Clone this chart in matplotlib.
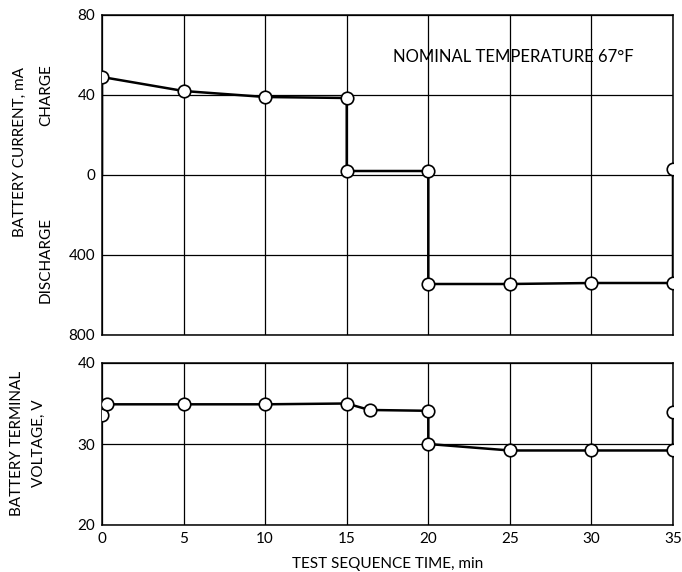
import numpy as np
import matplotlib.pyplot as plt

# battery current vs time (charge positive, discharge negative), mA
cur_t = [0, 0, 5, 10, 15, 15, 20, 20, 25, 30, 35, 35]
cur_ma = [0, 49, 42, 39, 38.5, 2, 2, -545, -545, -540, -540, 3]
cur_marked = [False] + [True] * 11

# battery terminal voltage vs time, V
volt_t = [0, 0.3, 5, 10, 15, 16.4, 20, 20, 25, 30, 35, 35]
volt_v = [33.6, 34.9, 34.9, 34.9, 35.0, 34.2, 34.1, 30.0, 29.2, 29.2, 29.2, 34.0]

x_ticks = [0, 5, 10, 15, 20, 25, 30, 35]
cur_ticks = [80, 40, 0, -400, -800]
volt_ticks = [20, 30, 40]

plt.rcParams['font.family'] = ['Lato', 'DejaVu Sans']
plt.rcParams['font.size'] = 11


def fwd(y):
    y = np.asarray(y, dtype=float)
    return np.where(y >= 0, y / 40.0, y / 400.0)


def inv(p):
    p = np.asarray(p, dtype=float)
    return np.where(p >= 0, p * 40.0, p * 400.0)


fig = plt.figure(figsize=(6.82, 5.72), dpi=100)
ax1 = fig.add_axes([102 / 682, 1 - 335 / 572, 571 / 682, 320 / 572])
ax2 = fig.add_axes([102 / 682, 1 - 525 / 572, 571 / 682, 162 / 572])

line_kw = dict(color='black', lw=1.8, zorder=3)
mark_kw = dict(marker='o', ms=9, mfc='white', mec='black', mew=1.2, ls='none', zorder=4)

# current panel
ax1.set_yscale('function', functions=(fwd, inv))
ax1.plot(cur_t, cur_ma, **line_kw)
ax1.plot([t for t, m in zip(cur_t, cur_marked) if m],
         [c for c, m in zip(cur_ma, cur_marked) if m], **mark_kw)
ax1.set_ylim(-800, 80)
ax1.set_yticks(cur_ticks)
ax1.set_yticklabels([str(abs(v)) for v in cur_ticks])
ax1.set_xticklabels([])
ax1.text(25.2, 59, 'NOMINAL TEMPERATURE 67°F', ha='center', va='center', fontsize=12)

# voltage panel
ax2.plot(volt_t, volt_v, **line_kw)
ax2.plot(volt_t, volt_v, **mark_kw)
ax2.set_ylim(20, 40)
ax2.set_yticks(volt_ticks)
ax2.set_xlabel('TEST SEQUENCE TIME, min', labelpad=8)

for ax in (ax1, ax2):
    ax.set_xlim(0, 35)
    ax.set_xticks(x_ticks)
    ax.grid(True, color='black', lw=0.9)
    ax.set_axisbelow(True)
    ax.tick_params(length=0, pad=5, labelsize=11)
    for s in ax.spines.values():
        s.set_linewidth(1.1)

# axis titles
fig.text(20 / 682, 1 - 152 / 572, 'BATTERY CURRENT, mA', rotation=90, ha='center', va='center')
fig.text(46 / 682, 1 - 95 / 572, 'CHARGE', rotation=90, ha='center', va='center')
fig.text(46 / 682, 1 - 260 / 572, 'DISCHARGE', rotation=90, ha='center', va='center')
fig.text(17 / 682, 1 - 443 / 572, 'BATTERY TERMINAL', rotation=90, ha='center', va='center')
fig.text(39 / 682, 1 - 443 / 572, 'VOLTAGE, V', rotation=90, ha='center', va='center')

fig.savefig('out.png', dpi=100)
